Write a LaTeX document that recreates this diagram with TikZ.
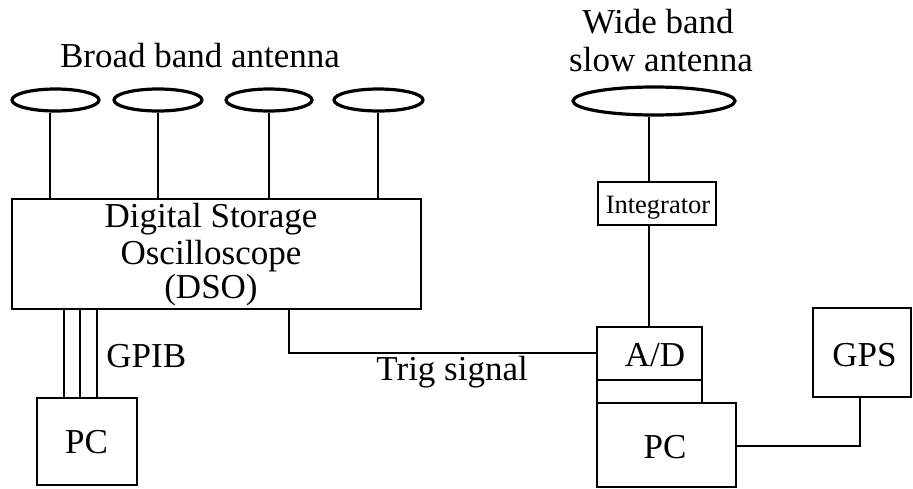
\documentclass[tikz,border=0pt]{standalone}
\usepackage{fontspec}
\setmainfont{Liberation Serif}
\usetikzlibrary{shapes.geometric}
\begin{document}
\begin{tikzpicture}[x=1pt,y=-1pt,line width=2.9pt,
  box/.style={draw,rectangle,inner sep=0pt,line width=2.9pt},
  ant/.style={draw,ellipse,inner sep=0pt,line width=3.2pt},
  lbl/.style={anchor=base,inner sep=0pt,font=\fontsize{35}{36}\selectfont},
  slbl/.style={anchor=base,inner sep=0pt,font=\fontsize{26.5}{28}\selectfont}]
\useasboundingbox (0,0) rectangle (913,488);
% antennas
\node[ant,minimum width=87pt,minimum height=22pt] (a1) at (55.5,100) {};
\node[ant,minimum width=88pt,minimum height=22pt] (a2) at (158,100) {};
\node[ant,minimum width=86pt,minimum height=22pt] (a3) at (269,100) {};
\node[ant,minimum width=89pt,minimum height=22pt] (a4) at (378.5,100) {};
\node[ant,minimum width=162pt,minimum height=28pt] (a5) at (654,101) {};
\node[lbl] (tb) at (200,67) {Broad band antenna};
\node[lbl] (tw1) at (658,33) {Wide band};
\node[lbl] (tw2) at (661,71) {slow antenna};
% DSO
\node[box,minimum width=409pt,minimum height=110pt] (dso) at (216.5,254) {};
\node[lbl] (d1) at (211,227) {Digital Storage};
\node[lbl] (d2) at (211,264) {Oscilloscope};
\node[lbl] (d3) at (211,298) {(DSO)};
% left PC
\node[box,minimum width=100pt,minimum height=87pt] (pc1) at (87,441.5) {};
\node[lbl] (pc1t) at (86.5,453) {PC};
% Integrator
\node[box,minimum width=118pt,minimum height=43pt] (integ) at (657,203.5) {};
\node[slbl] (intt) at (658,213) {Integrator};
% A/D, spacer, PC
\node[box,minimum width=105pt,minimum height=53pt] (ad) at (649.5,353.5) {};
\node[lbl] (adt) at (655,366) {A/D};
\node[box,minimum width=105pt,minimum height=23pt] (adlow) at (649.5,391.5) {};
\node[box,minimum width=139pt,minimum height=84pt] (pc2) at (666.5,445) {};
\node[lbl] (pc2t) at (665,458) {PC};
% GPS
\node[box,minimum width=98pt,minimum height=89pt] (gps) at (862,352.5) {};
\node[lbl] (gpst) at (864.5,366) {GPS};
% labels
\node[lbl,anchor=base west] (gpib) at (105,367) {GPIB};
\node[lbl,anchor=base west] (trig) at (375,380) {Trig signal};
% connectors
\foreach \a/\x in {a1/50,a2/158,a3/269,a4/378}{
  \draw (\x,0 |- \a.south) -- (\x,0 |- dso.north);
}
\coordinate (sx) at (649,150);
\draw (sx |- a5.south) -- (sx |- integ.north);
\draw (sx |- integ.south) -- (sx |- ad.north);
\foreach \x in {64,80,97}{
  \draw (\x,0 |- dso.south) -- (\x,0 |- pc1.north);
}
\coordinate (tg) at (289,353);
\draw (tg |- dso.south) -- (tg) -- (tg -| ad.west);
\coordinate (gx) at (860,446);
\draw (gx -| pc2.east) -- (gx) -- (gx |- gps.south);
\end{tikzpicture}
\end{document}
